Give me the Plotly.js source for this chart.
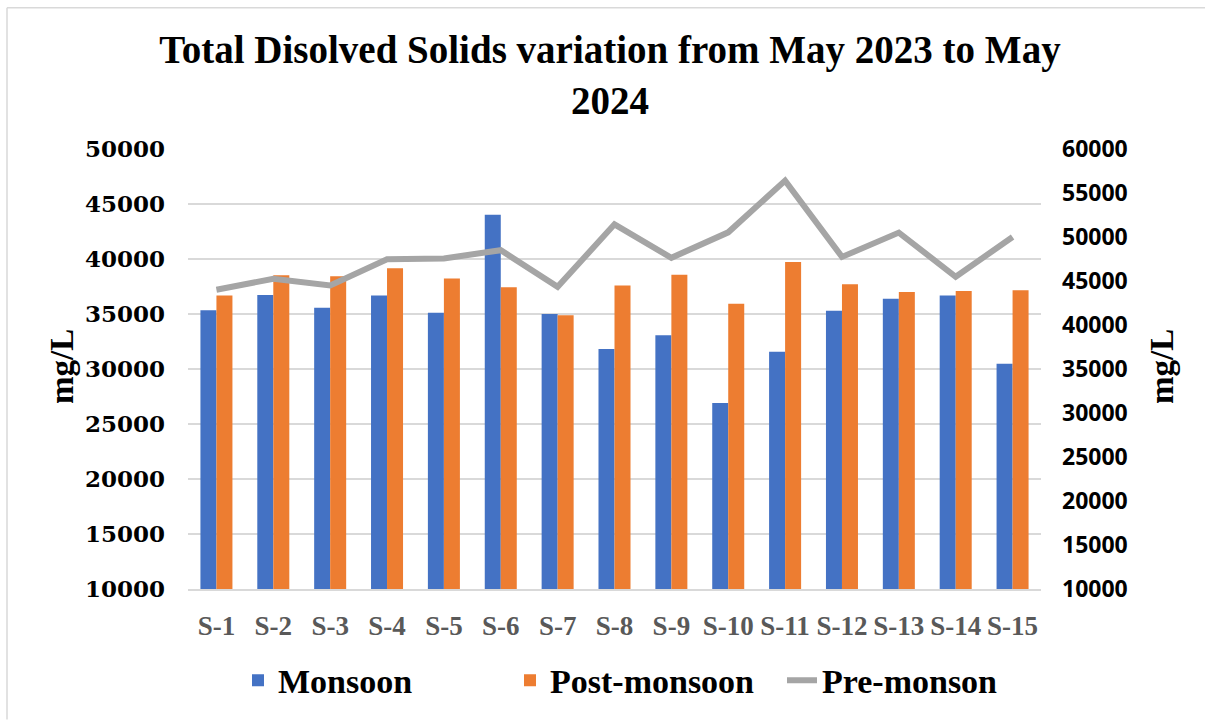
<!DOCTYPE html>
<html>
<head>
<meta charset="utf-8">
<script src="https://cdn.plot.ly/plotly-3.0.1.min.js"></script>
<style>html,body{margin:0;padding:0;background:#fff;}#chart{width:1205px;height:722px;}</style>
</head>
<body>
<div id="chart"></div>
<script>
const sites = ["S-1","S-2","S-3","S-4","S-5","S-6","S-7","S-8","S-9","S-10","S-11","S-12","S-13","S-14","S-15"];
const monsoon = [35330, 36720, 35570, 36690, 35120, 44030, 35000, 31810, 33070, 26900, 31560, 35300, 36380, 36690, 30480];
const postMonsoon = [36690, 38530, 38440, 39160, 38230, 37440, 34880, 37580, 38560, 35930, 39730, 37700, 36990, 37080, 37170];
const preMonsoon = [44000, 45250, 44500, 47480, 47560, 48500, 44340, 51440, 47630, 50530, 56410, 47740, 50500, 45480, 50000];

const leftTicks = [10000, 15000, 20000, 25000, 30000, 35000, 40000, 45000, 50000];
const rightTicks = [10000, 15000, 20000, 25000, 30000, 35000, 40000, 45000, 50000, 55000, 60000];

const serif = "Liberation Serif, Times New Roman, serif";

const traces = [
  {type: "bar", name: "Monsoon", x: sites, y: monsoon, marker: {color: "#4472C4"}},
  {type: "bar", name: "Post-monsoon", x: sites, y: postMonsoon, marker: {color: "#ED7D31"}},
  {type: "scatter", mode: "lines", name: "Pre-monson", x: sites, y: preMonsoon, yaxis: "y2",
   line: {color: "#A5A5A5", width: 6, shape: "linear"}}
];

const W = 1205, H = 722, L = 188, R = 1041, T = 149, B = 591;
const px = v => (v - L) / (R - L);
const py = v => (B - v) / (B - T);

const layout = {
  width: W, height: H,
  margin: {l: L, r: W - R, t: T, b: H - B, pad: 0},
  paper_bgcolor: "#ffffff", plot_bgcolor: "#ffffff",
  barmode: "group", bargap: 0.437, bargroupgap: 0,
  title: {
    text: "Total Disolved Solids variation from May 2023 to May<br>2024",
    font: {family: serif, size: 39, color: "#000000", weight: "bold"},
    xref: "container", x: 610 / W, xanchor: "center",
    yref: "container", y: 1 - 63 / H, yanchor: "top"
  },
  xaxis: {
    type: "category",
    tickfont: {family: serif, size: 27, color: "#595959", weight: "bold"},
    showgrid: false, showline: true, linecolor: "#D9D9D9", linewidth: 1.5,
    ticks: "", ticklabelstandoff: 12, fixedrange: true
  },
  yaxis: {
    range: [10000, 50000], tickvals: leftTicks, ticktext: leftTicks.map(String),
    tickfont: {family: "DejaVu Serif, serif", size: 23, color: "#000000", weight: "bold"},
    showgrid: true, gridcolor: "#D9D9D9", gridwidth: 1.5, zeroline: false,
    showline: false, ticks: "", ticklabelstandoff: 22, fixedrange: true
  },
  yaxis2: {
    range: [10000, 60000], tickvals: rightTicks, ticktext: rightTicks.map(String),
    overlaying: "y", side: "right",
    tickfont: {family: "Noto Sans, sans-serif", size: 23, color: "#000000", weight: "bold"},
    showgrid: false, zeroline: false, showline: false, ticks: "", ticklabelstandoff: 20,
    fixedrange: true
  },
  legend: {
    orientation: "h", xref: "paper", x: (646 - L) / (R - L), xanchor: "center",
    y: py(683), yanchor: "middle",
    font: {family: serif, size: 34, color: "#000000", weight: "bold"},
    itemwidth: 30, traceorder: "normal", entrywidth: 227
  },
  annotations: [
    {text: "mg/L", xref: "paper", yref: "paper", x: px(62), y: py(368), textangle: -90,
     showarrow: false, xanchor: "center", yanchor: "middle",
     font: {family: serif, size: 33, color: "#000000", weight: "bold"}},
    {text: "mg/L", xref: "paper", yref: "paper", x: px(1162), y: py(368), textangle: -90,
     showarrow: false, xanchor: "center", yanchor: "middle",
     font: {family: serif, size: 33, color: "#000000", weight: "bold"}}
  ],
  shapes: [
    {type: "line", xref: "paper", yref: "paper", x0: px(7), x1: px(1205), y0: py(7), y1: py(7),
     line: {color: "#D9D9D9", width: 1.5}},
    {type: "line", xref: "paper", yref: "paper", x0: px(7), x1: px(7), y0: py(7), y1: py(722),
     line: {color: "#D9D9D9", width: 1.5}}
  ],
  showlegend: true
};

Plotly.newPlot("chart", traces, layout, {displayModeBar: false, staticPlot: true});
</script>
</body>
</html>
